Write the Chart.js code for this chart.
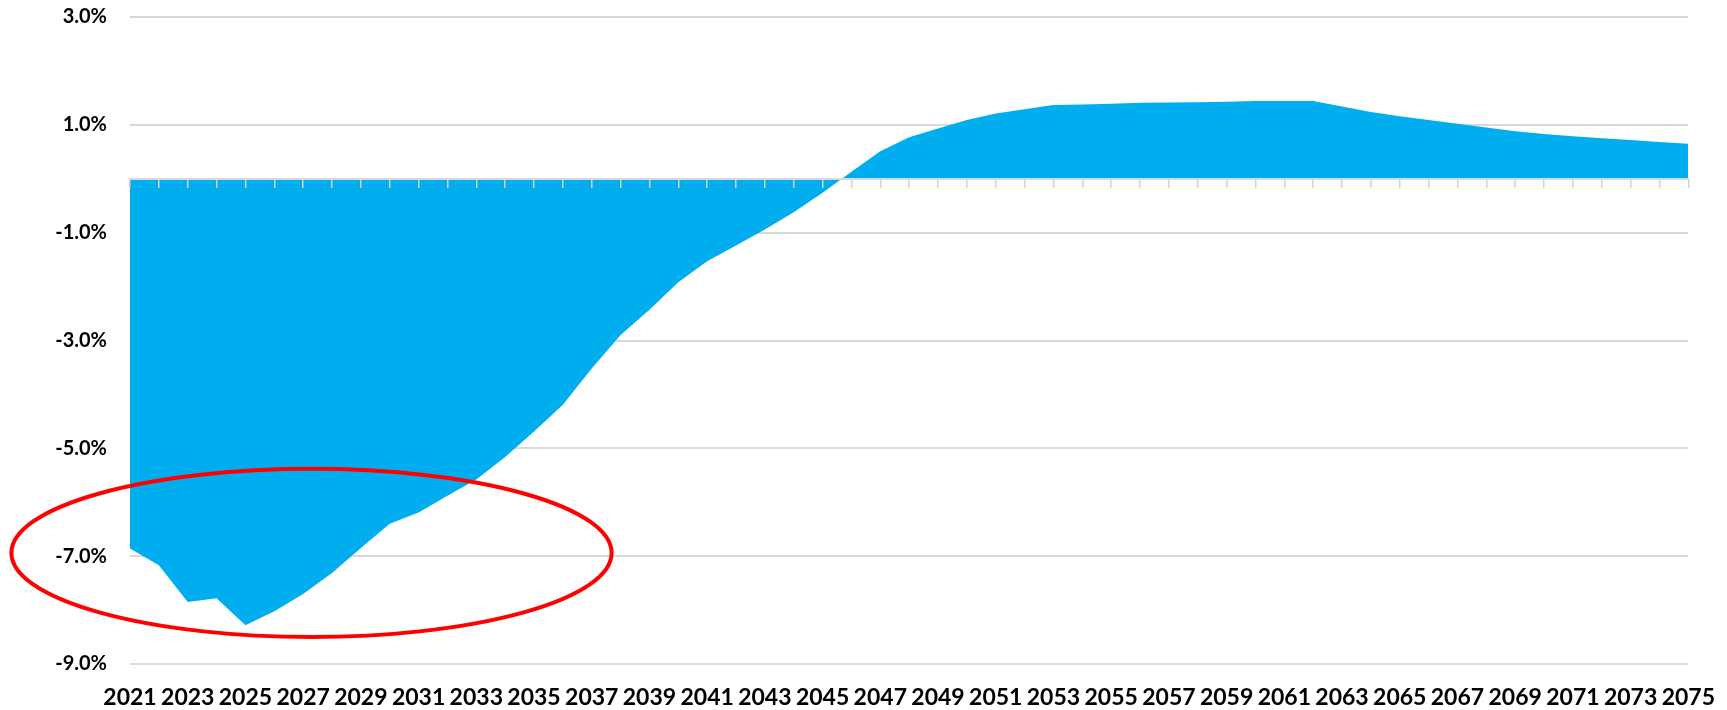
<!DOCTYPE html>
<html lang="en">
<head>
  <meta charset="UTF-8" />
  <title>Chart</title>
  <style>
    html, body {
      margin: 0;
      padding: 0;
      background: #ffffff;
    }
    .wrap {
      width: 1727px;
      height: 710px;
    }
  </style>
  <script src="https://cdn.jsdelivr.net/npm/chart.js"></script>
</head>
<body>
  <div class="wrap">
    <canvas id="chart" width="1727" height="710"></canvas>
  </div>

  <script>
    // years on the x axis
    const years = [
      '2021', '2022', '2023', '2024', '2025', '2026', '2027', '2028', '2029', '2030',
      '2031', '2032', '2033', '2034', '2035', '2036', '2037', '2038', '2039', '2040',
      '2041', '2042', '2043', '2044', '2045', '2046', '2047', '2048', '2049', '2050',
      '2051', '2052', '2053', '2054', '2055', '2056', '2057', '2058', '2059', '2060',
      '2061', '2062', '2063', '2064', '2065', '2066', '2067', '2068', '2069', '2070',
      '2071', '2072', '2073', '2074', '2075'
    ];

    // values in percent
    const values = [
      -6.86, -7.17, -7.85, -7.78, -8.28, -8.02, -7.70, -7.31, -6.85, -6.40,
      -6.19, -5.88, -5.58, -5.16, -4.69, -4.19, -3.52, -2.90, -2.43, -1.92,
      -1.53, -1.24, -0.94, -0.62, -0.26, 0.13, 0.51, 0.77, 0.93, 1.09,
      1.21, 1.29, 1.37, 1.375, 1.39, 1.41, 1.415, 1.42, 1.43, 1.44,
      1.44, 1.44, 1.34, 1.24, 1.16, 1.09, 1.02, 0.95, 0.88, 0.83,
      0.79, 0.75, 0.72, 0.68, 0.65
    ];

    // y axis range and step
    const yMin = -9;
    const yMax = 3;
    const yStep = 2;

    // red ring round the early years (category index / percent units)
    const highlight = { center: 6.29, value: -6.94, halfWidth: 10.4, halfHeight: 1.56 };

    const ringPlugin = {
      id: 'ring',
      afterDraw(chart) {
        const x = chart.scales.x;
        const y = chart.scales.y;
        const cx = x.getPixelForValue(highlight.center);
        const cy = y.getPixelForValue(highlight.value);
        const rx = x.getPixelForValue(highlight.center + highlight.halfWidth) - cx;
        const ry = y.getPixelForValue(highlight.value - highlight.halfHeight) - cy;
        const ctx = chart.ctx;
        ctx.save();
        ctx.beginPath();
        ctx.ellipse(cx, cy, rx, ry, 0, 0, Math.PI * 2);
        ctx.strokeStyle = '#ff0000';
        ctx.lineWidth = 4;
        ctx.stroke();
        ctx.restore();
      }
    };

    new Chart(document.getElementById('chart'), {
      type: 'line',
      data: {
        labels: years,
        datasets: [{
          data: values,
          fill: 'origin',
          backgroundColor: '#00aeef',
          borderColor: '#00aeef',
          borderWidth: 0,
          pointRadius: 0,
          tension: 0
        }]
      },
      options: {
        responsive: false,
        animation: false,
        layout: { padding: { top: 17, right: 36, bottom: 0, left: 0 } },
        plugins: {
          legend: { display: false },
          tooltip: { enabled: false }
        },
        scales: {
          x: {
            position: 'bottom',
            offset: false,
            grid: { display: false },
            border: { display: false },
            ticks: {
              autoSkip: false,
              maxRotation: 0,
              padding: 12,
              color: '#000000',
              font: { family: 'Lato', size: 23, weight: 'bold' },
              callback: (v, i) => (i % 2 === 0 ? years[i] : '')
            },
            afterFit: (s) => { s.height = 46; }
          },
          // zero line with a small mark for every year, drawn over the fill
          x0: {
            type: 'category',
            position: { y: 0 },
            offset: false,
            grid: {
              z: 1,
              drawOnChartArea: false,
              drawTicks: true,
              tickLength: 8,
              color: '#d2d2d2',
              lineWidth: 1.5
            },
            border: { z: 1, color: '#d9d9d9', width: 2 },
            ticks: { display: false },
            afterFit: (s) => { s.height = 0; }
          },
          y: {
            min: yMin,
            max: yMax,
            grid: {
              color: '#d9d9d9',
              lineWidth: 2,
              drawTicks: true,
              tickLength: 23,
              tickColor: 'rgba(0,0,0,0)'
            },
            border: { display: false },
            ticks: {
              stepSize: yStep,
              padding: 0,
              color: '#000000',
              font: { family: 'Lato', size: 20, weight: 'bold' },
              callback: (v) => v.toFixed(1) + '%'
            },
            afterFit: (s) => { s.width = 130; }
          }
        }
      },
      plugins: [ringPlugin]
    });
  </script>
</body>
</html>
